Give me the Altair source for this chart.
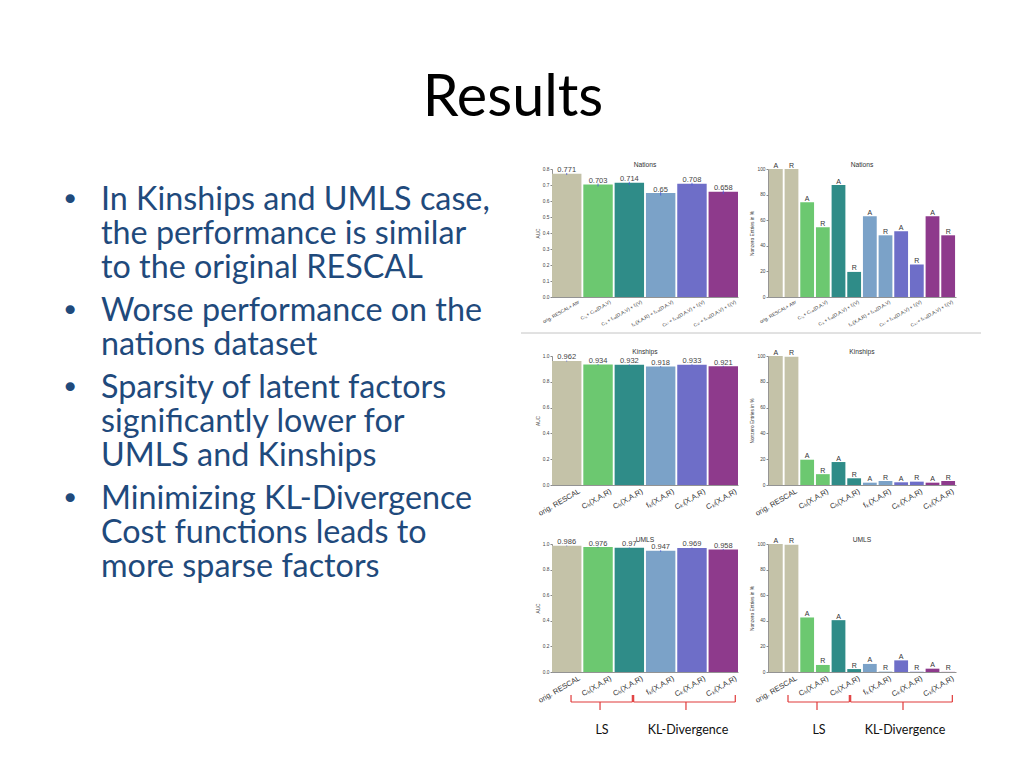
import json
import altair as alt
import pandas as pd

# ---------------- data ----------------
TITLE = "Results"
BULLETS = [
    ["In Kinships and UMLS case,", "the performance is similar", "to the original RESCAL"],
    ["Worse performance on the", "nations dataset"],
    ["Sparsity of latent factors", "significantly lower for", "UMLS and Kinships"],
    ["Minimizing KL-Divergence", "Cost functions leads to", "more sparse factors"],
]

METHOD_IDX = [0, 1, 2, 3, 4, 5]
METHOD_COLORS = ["#c4c2a8", "#6cc870", "#2f8c88", "#7ba2c8", "#6e6ec8", "#8e3a8c"]

NATIONS_LABELS = [
    "orig. RESCAL+ Attr",
    "Cₗₛ + Cₗₛₐ(D,A,V)",
    "Cₗₛ + fₗₛₐ(D,A,V) + fₗ(V)",
    "fₖₗ(X,A,R) + fₖₗₐ(D,A,V)",
    "Cₖₗ + fₖₗₐ(D,A,V) + fₗ(V)",
    "Cₖₗ + fₖₗₐ(D,A,V) + fₗ(V)",
]
KIN_LABELS = ["orig. RESCAL", "Cₗₛ(X,A,R)", "Cₗₛ(X,A,R)", "fₖₗ(X,A,R)", "Cₖₗ(X,A,R)", "Cₖₗ(X,A,R)"]
UMLS_LABELS = ["orig. RESCAL", "Cₗₛ(X,A,R)", "Cₗₛ(X,A,R)", "fₖₗ(X,A,R)", "Cₖₗ(X,A,R)", "Cₖₗ(X,A,R)"]

NATIONS_AUC = [0.771, 0.703, 0.714, 0.65, 0.708, 0.658]
NATIONS_AUC_ERR = [0.008, 0.012, 0.012, 0.016, 0.012, 0.016]
KIN_AUC = [0.962, 0.934, 0.932, 0.918, 0.933, 0.921]
KIN_AUC_ERR = [0.005, 0.005, 0.005, 0.006, 0.005, 0.006]
UMLS_AUC = [0.986, 0.976, 0.97, 0.947, 0.969, 0.958]
UMLS_AUC_ERR = [0.004, 0.005, 0.005, 0.008, 0.005, 0.006]

NATIONS_AUC_TICKS = [0.0, 0.1, 0.2, 0.3, 0.4, 0.5, 0.6, 0.7, 0.8]
UNIT_AUC_TICKS = [0.0, 0.2, 0.4, 0.6, 0.8, 1.0]
NZ_TICKS = [0, 20, 40, 60, 80, 100]

NATIONS_NZ_A = [100, 74, 87.5, 63, 51.3, 63]
NATIONS_NZ_R = [100, 54.5, 19.6, 48.2, 25.4, 48.2]
KIN_NZ_A = [100, 19.6, 17.8, 1.8, 2.1, 1.8]
KIN_NZ_R = [99.5, 8.4, 5.2, 3.1, 2.6, 3.1]
UMLS_NZ_A = [100, 42.6, 40.5, 6.3, 9.1, 2.6]
UMLS_NZ_R = [99.5, 5.5, 2.3, 0.3, 0.2, 0.1]

BRACKET_START = [1, 3]
BRACKET_END = [2, 5]
BRACKET_MID = [1, 4]
BRACKET_TEXT = ["LS", "KL-Divergence"]
BRACKET_END_OFFSET = [3, 12]
BRACKET_MID_OFFSET = [2, -6]

# ---------------- style ----------------
AX_FONT = "Liberation Sans"
SLIDE_FONT = "Lato"
TEXT_BLUE = "#1f4a7c"
PLOT_W_AUC = 186
PLOT_W_NZ = 188
TEXT_W = 513
COL_GAP = 30
ROW_GAP = 59


def x_enc(field, labels, label_size, pad_inner):
    return alt.X(
        f"{field}:O",
        title=None,
        scale=alt.Scale(domain=METHOD_IDX, paddingInner=pad_inner, paddingOuter=0),
        axis=alt.Axis(
            labelExpr=json.dumps(labels, ensure_ascii=False) + "[datum.value]",
            labelAngle=-30,
            labelAlign="right",
            labelBaseline="top",
            labelFontSize=label_size,
            labelFont=AX_FONT,
            labelColor="#333",
            labelOffset=11,
            labelPadding=2,
            labelOverlap=False,
            ticks=False,
            domainColor="#777",
            domainWidth=0.8,
            grid=False,
        ),
    )


def y_axis(title, ticks, fmt):
    return alt.Axis(
        title=title,
        values=ticks,
        tickCount=len(ticks) + 2,
        format=fmt,
        labelFontSize=4.8,
        labelFont=AX_FONT,
        labelColor="#444",
        labelOverlap=False,
        labelFlush=False,
        titleFontSize=4.8,
        titleFont=AX_FONT,
        titleColor="#444",
        titleFontWeight="normal",
        titlePadding=2,
        tickSize=2,
        tickColor="#888",
        labelPadding=1,
        domainColor="#777",
        domainWidth=0.8,
        grid=False,
    )


def title_layer(text, width):
    return alt.Chart(pd.DataFrame({"t": [text]})).mark_text(
        fontSize=6.7, font=AX_FONT, color="#333", align="center", baseline="alphabetic"
    ).encode(x=alt.value(width / 2), y=alt.value(-2), text="t:N")


color_enc = alt.Color(
    "idx:O", scale=alt.Scale(domain=METHOD_IDX, range=METHOD_COLORS), legend=None
)


def bracket_layers():
    layers = []
    for s, e, m, t, eo, mo in zip(
        BRACKET_START, BRACKET_END, BRACKET_MID, BRACKET_TEXT, BRACKET_END_OFFSET, BRACKET_MID_OFFSET
    ):
        d = pd.DataFrame({"start": [s], "end": [e], "mid": [m], "label": [t]})
        base = alt.Chart(d)
        red = "#e03a3a"
        horiz = base.mark_rule(color=red, strokeWidth=1.2, xOffset=-27, x2Offset=eo).encode(
            x=alt.X("start:O", title=None), x2="end", y=alt.value(158)
        )
        left = base.mark_rule(color=red, strokeWidth=1.2, xOffset=-27).encode(
            x=alt.X("start:O", title=None), y=alt.value(151), y2=alt.value(158)
        )
        right = base.mark_rule(color=red, strokeWidth=1.2, xOffset=eo).encode(
            x=alt.X("end:O", title=None), y=alt.value(151), y2=alt.value(158)
        )
        mid = base.mark_rule(color=red, strokeWidth=1.2, xOffset=mo).encode(
            x=alt.X("mid:O", title=None), y=alt.value(158), y2=alt.value(166)
        )
        lab = base.mark_text(
            font=SLIDE_FONT, fontSize=12.5, color="#111", baseline="middle", align="center", xOffset=mo + 2
        ).encode(x=alt.X("mid:O", title=None), y=alt.value(186), text="label:N")
        layers += [horiz, left, right, mid, lab]
    return layers


def auc_chart(title, values, errs, labels, ticks, label_size, height, separator=False, brackets=False):
    df = pd.DataFrame(
        {
            "idx": METHOD_IDX,
            "auc": values,
            "lo": [v - e for v, e in zip(values, errs)],
            "hi": [v + e * 0.5 for v, e in zip(values, errs)],
        }
    )
    base = alt.Chart(df)
    xe = x_enc("idx", labels, label_size, 0.06)
    ye = alt.Y("auc:Q", scale=alt.Scale(domain=[0, ticks[-1]], nice=False, zero=True),
               axis=y_axis("AUC", ticks, ".1f"))
    bars = base.mark_bar().encode(x=xe, y=ye, color=color_enc)
    err = base.mark_rule(color="#4a58d8", strokeWidth=0.8).encode(x=xe, y="lo:Q", y2="hi:Q")
    txt = base.mark_text(
        fontSize=7.5, font=AX_FONT, color="#444", baseline="alphabetic", dy=-1.5
    ).encode(x=xe, y="auc:Q", text=alt.Text("auc:Q", format=".3~f"))
    layers = [bars, err, txt, title_layer(title, PLOT_W_AUC)]
    if separator:
        sep = alt.Chart(pd.DataFrame({"v": [0]})).mark_rule(color="#c4c4c4", strokeWidth=1).encode(
            x=alt.value(-31), x2=alt.value(429), y=alt.value(height + 36)
        )
        layers.append(sep)
    if brackets:
        layers += bracket_layers()
    return alt.layer(*layers).properties(width=PLOT_W_AUC, height=height)


def nz_chart(title, a_vals, r_vals, labels, label_size, height, brackets=False):
    rows = []
    for i in METHOD_IDX:
        rows.append({"idx": i, "type": "A", "val": a_vals[i]})
        rows.append({"idx": i, "type": "R", "val": r_vals[i]})
    df = pd.DataFrame(rows)
    base = alt.Chart(df)
    xe = x_enc("idx", labels, label_size, 0.0)
    xo = alt.XOffset("type:N", scale=alt.Scale(domain=["A", "R"], paddingInner=0.12, paddingOuter=0.06))
    ye = alt.Y("val:Q", scale=alt.Scale(domain=[0, 100], nice=False),
               axis=y_axis("Nonzero Entries in %", NZ_TICKS, "d"))
    bars = base.mark_bar().encode(x=xe, xOffset=xo, y=ye, color=color_enc)
    txt = base.mark_text(fontSize=7, font=AX_FONT, color="#333", baseline="alphabetic", dy=-1.5).encode(
        x=xe, xOffset=xo, y="val:Q", text="type:N"
    )
    layers = [bars, txt, title_layer(title, PLOT_W_NZ)]
    if brackets:
        layers += bracket_layers()
    return alt.layer(*layers).properties(width=PLOT_W_NZ, height=height)


# ---------------- text panel ----------------
rows = []
g = 0
for b, lines in enumerate(BULLETS):
    for j, t in enumerate(lines):
        rows.append({"text": t, "pos": g + b * 0.265, "first": j == 0})
        g += 1
text_df = pd.DataFrame(rows)
ypos = alt.Y("pos:Q", scale=alt.Scale(domain=[0, 12], range=[41, 449]), axis=None)
tbase = alt.Chart(text_df)
body = tbase.mark_text(
    font=SLIDE_FONT, fontSize=32.3, color=TEXT_BLUE, align="left", baseline="alphabetic"
).encode(x=alt.value(92), y=ypos, text="text:N")
bullets = tbase.transform_filter("datum.first").mark_text(
    font="DejaVu Sans", fontSize=31, color=TEXT_BLUE, align="left", baseline="alphabetic"
).encode(x=alt.value(52), y=ypos, text=alt.value("•"))
title_mark = alt.Chart(pd.DataFrame({"t": [TITLE]})).mark_text(
    font=SLIDE_FONT, fontSize=57.5, color="#000", align="center", baseline="alphabetic"
).encode(x=alt.value(504), y=alt.value(-53), text="t:N")
top_edge = alt.Chart(pd.DataFrame({"v": [0]})).mark_rule(color="white", strokeWidth=1).encode(
    x=alt.value(0), x2=alt.value(10), y=alt.value(-160)
)
text_panel = alt.layer(top_edge, body, bullets, title_mark).properties(width=TEXT_W, height=128)


def placeholder(h):
    return alt.Chart(pd.DataFrame({"v": [0]})).mark_rule(color="white", strokeWidth=0).encode(
        x=alt.value(0), y=alt.value(0)
    ).properties(width=TEXT_W, height=h)


charts = [
    text_panel,
    auc_chart("Nations", NATIONS_AUC, NATIONS_AUC_ERR, NATIONS_LABELS, NATIONS_AUC_TICKS, 4.8, 128, separator=True),
    nz_chart("Nations", NATIONS_NZ_A, NATIONS_NZ_R, NATIONS_LABELS, 4.8, 128),
    placeholder(1),
    auc_chart("Kinships", KIN_AUC, KIN_AUC_ERR, KIN_LABELS, UNIT_AUC_TICKS, 7.5, 129),
    nz_chart("Kinships", KIN_NZ_A, KIN_NZ_R, KIN_LABELS, 7.5, 129),
    placeholder(1),
    auc_chart("UMLS", UMLS_AUC, UMLS_AUC_ERR, UMLS_LABELS, UNIT_AUC_TICKS, 7.5, 128, brackets=True),
    nz_chart("UMLS", UMLS_NZ_A, UMLS_NZ_R, UMLS_LABELS, 7.5, 128, brackets=True),
]

chart = alt.concat(*charts, columns=3, spacing={"row": ROW_GAP, "column": COL_GAP}, bounds="flush").properties(
    padding={"left": 0, "top": 0, "right": 0, "bottom": 0},
    background="white",
).configure_view(stroke=None)

chart.save("out.html", embed_options={"renderer": "svg", "actions": False})
